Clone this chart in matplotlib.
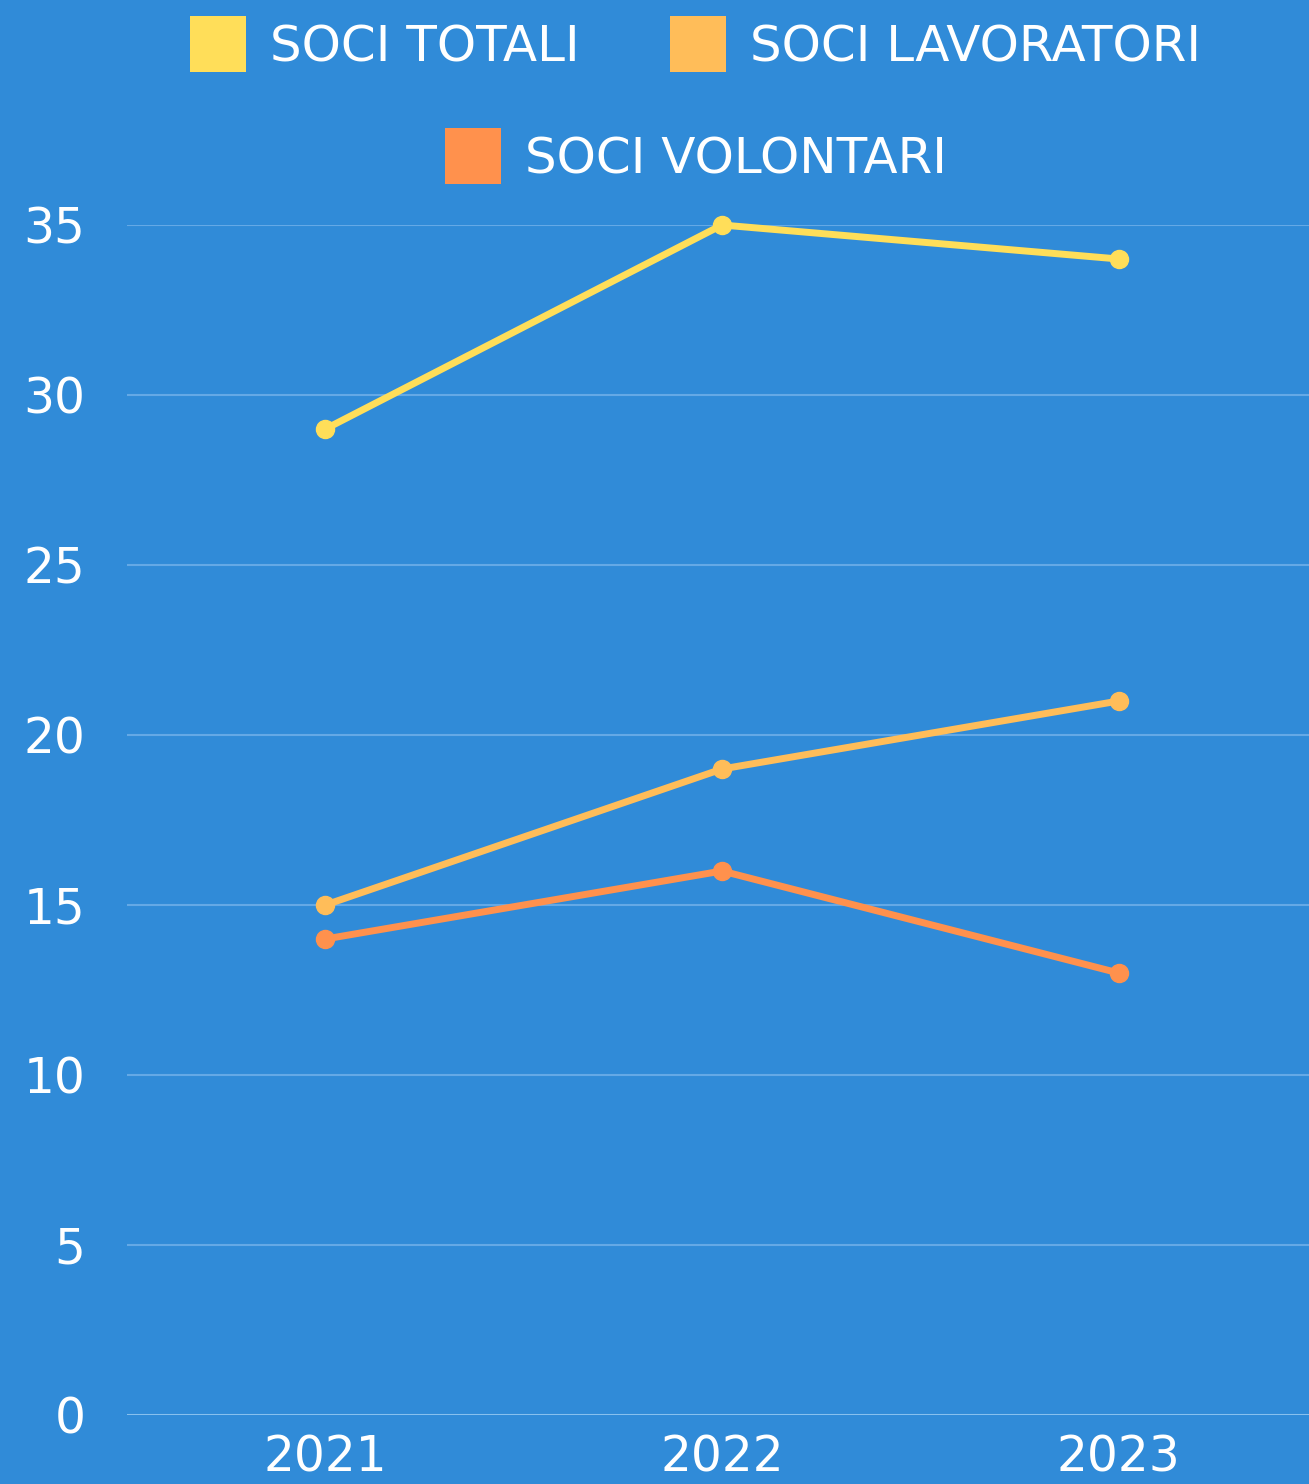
import matplotlib
matplotlib.use("Agg")
import matplotlib.pyplot as plt
from matplotlib.patches import Rectangle

years = ["2021", "2022", "2023"]
series_names = ["SOCI TOTALI", "SOCI LAVORATORI", "SOCI VOLONTARI"]
soci_totali = [29, 35, 34]
soci_lavoratori = [15, 19, 21]
soci_volontari = [14, 16, 13]
colors = ["#FFDE59", "#FFBD59", "#FF914D"]
yticks = [0, 5, 10, 15, 20, 25, 30, 35]

BG = "#308BD8"
W, H = 1309, 1484
fig = plt.figure(figsize=(W / 100, H / 100), dpi=100, facecolor=BG)
ax = fig.add_axes([127 / W, (H - 1415) / H, (1317 - 127) / W, (1415 - 225) / H], facecolor=BG)

for vals, c in zip([soci_totali, soci_lavoratori, soci_volontari], colors):
    ax.plot(range(len(years)), vals, color=c, lw=5, marker="o", ms=13,
            solid_capstyle="round", clip_on=False, zorder=3)

ax.set_xlim(-0.5, 2.5)
ax.set_ylim(0, 35)
ax.set_yticks(yticks)
ax.set_xticks(range(len(years)))
ax.set_xticklabels(years)
ax.grid(axis="y", color="#64A9E6", lw=1.5)
ax.grid(axis="x", visible=False)
ax.axhline(0, color="#8CC3F0", lw=2, zorder=2)
for s in ax.spines.values():
    s.set_visible(False)
ax.tick_params(length=0, colors="white", labelsize=35)
ax.tick_params(axis="y", pad=30)
ax.tick_params(axis="x", pad=13)

# manual legend
legend_items = [(190, 47, 0), (670, 47, 1), (445, 159, 2)]
for x, yc, i in legend_items:
    fig.patches.append(Rectangle((x / W, (H - yc + 3 - 28) / H), 56 / W, 56 / H,
                                 transform=fig.transFigure, facecolor=colors[i],
                                 edgecolor="none"))
    fig.text((x + 80) / W, (H - yc) / H, series_names[i], color="white",
             fontsize=36, va="center", ha="left")

fig.savefig("out.png", dpi=100, facecolor=BG)
